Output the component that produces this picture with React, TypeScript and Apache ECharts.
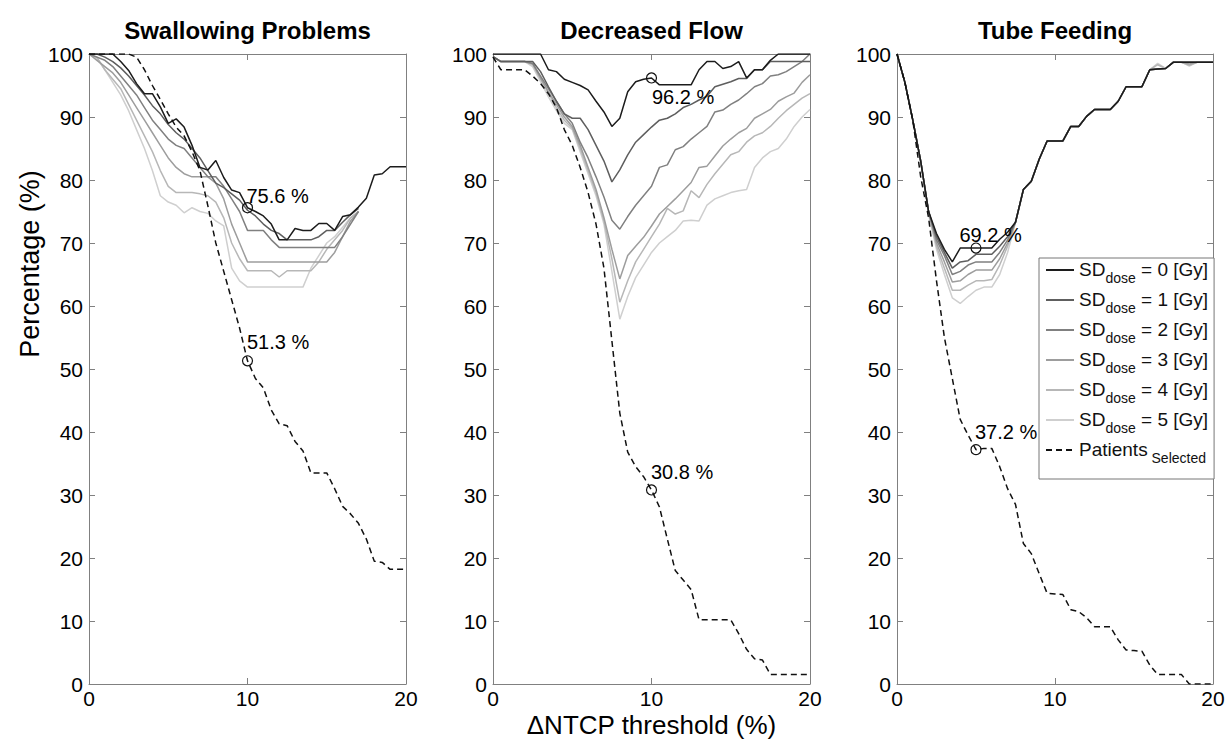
import React, { useEffect, useRef } from "react";
import * as echarts from "echarts";

const FONT = '"Liberation Sans", Arial, Helvetica, sans-serif';

const xValues = [0, 0.5, 1, 1.5, 2, 2.5, 3, 3.5, 4, 4.5, 5, 5.5, 6, 6.5, 7, 7.5, 8, 8.5, 9, 9.5, 10, 10.5, 11, 11.5, 12, 12.5, 13, 13.5, 14, 14.5, 15, 15.5, 16, 16.5, 17, 17.5, 18, 18.5, 19, 19.5, 20];

const panelTitles = ["Swallowing Problems", "Decreased Flow", "Tube Feeding"];
const xAxisTitle = "\u0394NTCP threshold (%)";
const yAxisTitle = "Percentage (%)";
const sdNames = ["SD0", "SD1", "SD2", "SD3", "SD4", "SD5"];
const patientsName = "Patients";
const xTickLabels = [0, 10, 20];
const yTickLabels = [0, 10, 20, 30, 40, 50, 60, 70, 80, 90, 100];

// Panel 1: Swallowing Problems
const swSD0 = [100, 100, 100, 100, 98.8, 97.4, 95.3, 93.7, 93.7, 91.6, 89, 89.7, 88.4, 85.5, 82, 81.6, 83.1, 80.4, 78.4, 78, 75.6, 75, 74.3, 73, 70.5, 70.5, 72.3, 72, 72, 73.1, 73.1, 72, 74.2, 74.5, 75.7, 77.1, 80.8, 81, 82.1, 82.1, 82.1];
const swSD1 = [100, 100, 99.5, 98.8, 97.8, 96.5, 95, 93.5, 91.8, 90.5, 88.8, 87.5, 86.5, 85, 83.5, 81.5, 79.5, 78.8, 77.8, 76.8, 75.2, 74.3, 73, 72, 71.5, 70.5, 70.5, 70.5, 70.5, 71, 72, 72, 73.3, 74.5, 75.5];
const swSD2 = [100, 99.5, 99, 98, 96.5, 95, 93.5, 91.5, 89.5, 88, 86.5, 85.5, 85, 83.5, 82, 80.5, 80.5, 79, 77, 75, 72, 72, 72, 70.5, 69.3, 69.3, 69.3, 69.3, 69.3, 69.3, 69.3, 69.3, 71, 73, 75];
const swSD3 = [100, 99, 98, 97, 95.5, 93.5, 91.5, 89.5, 87.5, 85.5, 83.5, 82, 81, 80.5, 80.5, 80.5, 79.5, 77, 73, 70, 67, 67, 67, 67, 67, 67, 67, 67, 67, 67, 67, 68.5, 71, 73.5, 75];
const swSD4 = [100, 99.5, 97.5, 96, 94.5, 92, 89.5, 87, 84.5, 81.5, 79, 78, 78, 78, 77.8, 77.5, 76.5, 74, 70, 67.5, 65.6, 65.6, 65.6, 65.6, 64.6, 65.6, 65.6, 65.6, 65.6, 67, 69, 70.5, 72, 74, 75];
const swSD5 = [100, 99.3, 97.5, 95.5, 93.5, 91, 88, 85, 81.5, 77.5, 76.5, 76, 74.8, 75.6, 75, 74.7, 73.5, 72.7, 66, 64, 63, 63, 63, 63, 63, 63, 63, 63, 66, 68, 70, 71, 72.5, 74, 75];
const swPatients = [100, 100, 100, 100, 100, 100, 99.5, 97.5, 95, 92.8, 90.5, 88.4, 87, 84.5, 81.5, 75.9, 70, 65.5, 61, 56.5, 51.3, 48.5, 47, 43.5, 41.3, 41, 38.5, 37, 33.5, 33.5, 33.5, 31, 28.2, 27, 25.5, 23, 19.5, 19.3, 18.2, 18.2, 18.2];
const swMarked = [[10, 75.6], [10, 51.3]];

// Panel 2: Decreased Flow
const dfSD0 = [100, 100, 100, 100, 100, 100, 100, 97.5, 97.2, 96, 95.5, 95, 94.3, 92.5, 90.8, 88.5, 89.8, 94, 95.6, 96, 96.2, 95.1, 95.1, 95.1, 95.1, 95.1, 97.5, 98.8, 98.8, 97.7, 98, 98.8, 96.2, 97.5, 97.5, 99, 100, 100, 100, 100, 100];
const dfSD1 = [99.6, 98.8, 98.8, 98.8, 98.8, 98.8, 97.2, 94.8, 92.5, 90.5, 89.8, 89.8, 88, 85.5, 83, 79.7, 81.6, 84, 86, 87.2, 88.4, 89.5, 89.8, 90.5, 91.5, 92, 92.7, 93.3, 94.8, 95.2, 95.6, 96.1, 96.1, 97.5, 97.5, 98.8, 98.8, 98.8, 98.8, 98.8, 98.8];
const dfSD2 = [99.6, 98.8, 98.8, 98.8, 98.8, 98.5, 96.5, 94.5, 92.5, 90.5, 89, 86, 83.5, 80.5, 77.3, 73.6, 72.2, 74.2, 76, 77.5, 79, 82, 82.4, 84.8, 85.3, 86.5, 87.5, 88.5, 90.8, 91.1, 92, 92.7, 93.7, 94.8, 95.3, 96.5, 96.7, 97.2, 98, 98.8, 100];
const dfSD3 = [99.6, 98.8, 98.8, 98.8, 98.8, 98.5, 96.2, 94, 92, 90, 88.5, 85.5, 82, 78.5, 74, 69, 64.3, 68, 69.5, 70.9, 72.7, 74.6, 75.8, 77, 78.3, 79.6, 82, 82.2, 83.8, 85.4, 86.5, 87.5, 88.2, 89.8, 90.5, 91.2, 92.5, 93.2, 93.8, 95.5, 96.7];
const dfSD4 = [99.6, 98.8, 98.8, 98.8, 98.8, 98.3, 96, 93.8, 91.5, 89.5, 88.2, 85, 81.5, 78, 73.5, 67.5, 60.6, 64, 67, 69, 71, 73, 75.5, 74.6, 75.1, 78.3, 77.2, 79.3, 81, 82.5, 84, 84.5, 86, 87, 87.5, 88.5, 89.8, 91, 92, 93, 93.7];
const dfSD5 = [99.6, 98.8, 98.8, 98.8, 98.8, 98, 95.6, 93.2, 91, 89, 88, 84.5, 81, 77.5, 73, 65.5, 57.9, 61.5, 64.5, 66.5, 68.5, 70, 71, 72, 73.5, 73.6, 73.5, 76, 77, 77.5, 78, 78.3, 78.5, 82, 83.5, 84.5, 85, 86.5, 88.5, 90, 91.2];
const dfPatients = [99.5, 97.5, 97.5, 97.5, 97.5, 96.5, 95.3, 93.7, 91.5, 88, 85.5, 82, 78, 73, 66, 54.5, 43, 36.8, 34.5, 32.9, 30.8, 28.1, 23, 18, 16.5, 15, 10.2, 10.2, 10.2, 10.2, 10.2, 8, 5.5, 4, 3.8, 1.5, 1.5, 1.5, 1.5, 1.5, 1.5];
const dfMarked = [[10, 96.2], [10, 30.8]];

// Panel 3: Tube Feeding
const tfSD0 = [100, 95.5, 89.5, 83, 75, 71.5, 69, 67, 69.2, 69.2, 69.2, 69.2, 69.2, 70.6, 71.7, 73.3, 78.5, 79.8, 83.3, 86.2, 86.2, 86.2, 88.5, 88.5, 90.1, 91.2, 91.2, 91.2, 92.5, 94.8, 94.8, 94.8, 97.5, 97.6, 97.7, 98.7, 98.7, 98.7, 98.7, 98.7, 98.7];
const tfSD1 = [100, 95.5, 89.5, 83, 75, 71, 68.5, 66, 67, 67.2, 68.2, 68.2, 68.2, 69.5, 71, 73.3, 78.5, 79.8, 83.3, 86.2, 86.2, 86.2, 88.5, 88.5, 90.1, 91.2, 91.2, 91.2, 92.5, 94.8, 94.8, 94.8, 97.5, 97.6, 97.7, 98.7, 98.7, 98.7, 98.7, 98.7, 98.7];
const tfSD2 = [100, 95.5, 89.5, 83, 75, 70.5, 68, 65, 65.5, 66.5, 67, 67, 67, 68.5, 70.5, 73.3, 78.5, 79.8, 83.3, 86.2, 86.2, 86.2, 88.5, 88.5, 90.1, 91.2, 91.2, 91.2, 92.5, 94.8, 94.8, 94.8, 97.5, 97.6, 97.7, 98.7, 98.7, 98.7, 98.7, 98.7, 98.7];
const tfSD3 = [100, 95.5, 89.5, 83, 75, 70, 67, 63.8, 64, 65, 65.7, 65.7, 65.7, 67.5, 70, 73.3, 78.5, 79.8, 83.3, 86.2, 86.2, 86.2, 88.5, 88.5, 90.1, 91.2, 91.2, 91.2, 92.5, 94.8, 94.8, 94.8, 97.5, 97.6, 97.7, 98.7, 98.7, 98.4, 98.7, 98.7, 98.7];
const tfSD4 = [100, 95.5, 89.5, 83, 74.8, 69.5, 66, 62.5, 62.5, 63.3, 64, 64, 64.2, 66.5, 69.5, 73.3, 78.5, 79.8, 83.3, 86.2, 86.2, 86.2, 88.5, 88.5, 90.1, 91.2, 91.2, 91.2, 92.5, 94.8, 94.8, 94.8, 97.5, 98.3, 97.7, 98.7, 98.7, 98.2, 98.7, 98.7, 98.7];
const tfSD5 = [100, 95.5, 89.5, 83, 74.5, 69, 65, 61.3, 60.4, 61.5, 62.5, 63, 63, 65, 68.5, 73.3, 78.5, 79.8, 83.3, 86.2, 86.2, 86.2, 88.5, 88.5, 90.1, 91.2, 91.2, 91.2, 92.5, 94.8, 94.8, 94.8, 97.5, 98.5, 97.7, 98.7, 98.7, 98.1, 98.7, 98.7, 98.7];
const tfPatients = [100, 95.5, 89.5, 80.5, 74, 64, 55, 48.5, 42, 39.5, 37.2, 37.4, 37.4, 34.5, 31, 28.5, 22.3, 20.7, 17.5, 14.4, 14.3, 14.2, 11.8, 11.5, 10.5, 9.1, 9.1, 9.1, 7, 5.4, 5.3, 5.2, 3, 1.5, 1.5, 1.5, 1.5, 0, 0, 0, 0];
const tfMarked = [[5, 69.2], [5, 37.2]];

const panelSD = [
  [swSD0, swSD1, swSD2, swSD3, swSD4, swSD5],
  [dfSD0, dfSD1, dfSD2, dfSD3, dfSD4, dfSD5],
  [tfSD0, tfSD1, tfSD2, tfSD3, tfSD4, tfSD5],
];
const panelPatients = [swPatients, dfPatients, tfPatients];
const panelMarked = [swMarked, dfMarked, tfMarked];

// styling / layout (not data)
const sdColors = ["#1c1c1c", "#5e5e5e", "#808080", "#9d9d9d", "#b7b7b7", "#cfcfcf"];
const gridLefts = [89, 493, 897];
const gridWidths = [317, 317, 316];
const gridTop = 54;
const gridHeight = 630;
const axisColor = "#808080";
// label offsets relative to marker box top-left (marker 10x10)
const markLabelPos = [
  [[4.5, -6], [5, -13]],
  [[6, 25], [5, -12.5]],
  [[-11, -7], [4.5, -12.5]],
];

function toPairs(vals: number[]) {
  const out: number[][] = [];
  for (let i = 0; i < vals.length; i++) {
    if (vals[i] !== null && vals[i] !== undefined) out.push([xValues[i], vals[i]]);
  }
  return out;
}

function buildOption() {
  const grid: any[] = [];
  const xAxis: any[] = [];
  const yAxis: any[] = [];
  const series: any[] = [];

  for (let p = 0; p < 3; p++) {
    grid.push({
      left: gridLefts[p],
      top: gridTop,
      width: gridWidths[p],
      height: gridHeight,
      containLabel: false,
      outerBoundsMode: "none",
    });
    const common = {
      gridIndex: p,
      type: "value",
      splitLine: { show: false },
      axisLine: { show: true, onZero: false, lineStyle: { color: axisColor, width: 1 } },
      axisTick: { show: true, inside: true, length: 6, lineStyle: { color: axisColor, width: 1 } },
    };
    xAxis.push({
      ...common,
      position: "bottom",
      min: xTickLabels[0],
      max: xTickLabels[xTickLabels.length - 1],
      interval: 10,
      axisLabel: { show: true, color: "#000", fontSize: 21, lineHeight: 21, fontFamily: FONT, margin: 4 },
    });
    xAxis.push({
      ...common,
      position: "top",
      min: 0,
      max: 20,
      interval: 10,
      axisLabel: { show: false },
    });
    yAxis.push({
      ...common,
      position: "left",
      min: yTickLabels[0],
      max: yTickLabels[yTickLabels.length - 1],
      interval: 10,
      axisLabel: { show: true, color: "#000", fontSize: 21, fontFamily: FONT, margin: 6 },
    });
    yAxis.push({
      ...common,
      position: "right",
      min: 0,
      max: 100,
      interval: 10,
      axisLabel: { show: false },
    });

    for (let k = 5; k >= 0; k--) {
      series.push({
        type: "line",
        name: sdNames[k],
        xAxisIndex: p * 2,
        yAxisIndex: p * 2,
        data: toPairs(panelSD[p][k]),
        symbol: "none",
        showSymbol: false,
        lineStyle: { color: sdColors[k], width: 1.5 },
        itemStyle: { color: sdColors[k] },
        z: 3,
      });
    }
    series.push({
      type: "line",
      name: patientsName,
      xAxisIndex: p * 2,
      yAxisIndex: p * 2,
      data: toPairs(panelPatients[p]),
      symbol: "none",
      showSymbol: false,
      lineStyle: { color: "#111", width: 1.5, type: [6, 4] },
      itemStyle: { color: "#111" },
      z: 4,
    });
    series.push({
      type: "scatter",
      name: "marked-" + p,
      xAxisIndex: p * 2,
      yAxisIndex: p * 2,
      symbol: "circle",
      symbolSize: 10,
      itemStyle: { color: "rgba(255,255,255,0)", borderColor: "#111", borderWidth: 1.2, opacity: 1 },
      label: { color: "#000" },
      z: 5,
      data: panelMarked[p].map((v, i) => ({
        value: v,
        label: {
          show: true,
          position: markLabelPos[p][i],
          align: "left",
          verticalAlign: "middle",
          formatter: (prm: any) => prm.value[1].toFixed(1) + " %",
          fontSize: 20,
          color: "#000",
          opacity: 1,
          textBorderWidth: 0,
          fontFamily: FONT,
        },
      })),
    });
  }

  const graphic: any[] = panelTitles.map((t, p) => ({
    type: "text",
    x: gridLefts[p] + gridWidths[p] / 2,
    y: 30,
    style: {
      text: t,
      align: "center",
      verticalAlign: "middle",
      fontSize: 24,
      fontWeight: "bold",
      fontFamily: FONT,
      fill: "#000",
    },
  }));
  graphic.push({
    type: "text",
    x: 30,
    y: 264,
    rotation: Math.PI / 2,
    style: {
      text: yAxisTitle,
      align: "center",
      verticalAlign: "middle",
      fontSize: 27,
      fontFamily: FONT,
      fill: "#000",
    },
  });
  graphic.push({
    type: "text",
    x: gridLefts[1] + gridWidths[1] / 2,
    y: 725,
    style: {
      text: xAxisTitle,
      align: "center",
      verticalAlign: "middle",
      fontSize: 26,
      lineHeight: 26,
      fontFamily: FONT,
      fill: "#000",
    },
  });

  return {
    animation: false,
    backgroundColor: "#fff",
    grid,
    xAxis,
    yAxis,
    series,
    graphic,
    legend: {
      show: true,
      orient: "vertical",
      left: 1039,
      top: 258,
      itemWidth: 28,
      itemHeight: 14,
      itemGap: 5,
      padding: [2, 6, 14, 6],
      borderColor: "#777",
      borderWidth: 1,
      backgroundColor: "#fff",
      selectedMode: false,
      itemStyle: { opacity: 0 },
      data: [...sdNames, patientsName],
      formatter: (name: string) =>
        name === patientsName ? "{m|Patients}{s| Selected}" : "{m|SD}{s|dose}{m| = " + name.slice(2) + " [Gy]}",
      textStyle: {
        color: "#111",
        fontFamily: FONT,
        rich: {
          m: { fontSize: 19, lineHeight: 20, verticalAlign: "top", fontFamily: FONT, color: "#111" },
          s: { fontSize: 14, lineHeight: 14, verticalAlign: "top", padding: [11, 0, 0, 0], fontFamily: FONT, color: "#111" },
        },
      },
    },
  };
}

export default function App() {
  const ref = useRef<HTMLDivElement>(null);
  useEffect(() => {
    if (!ref.current) return;
    const chart = echarts.init(ref.current, undefined, { renderer: "svg" });
    chart.setOption(buildOption() as any);
    return () => chart.dispose();
  }, []);
  return (
    <div
      ref={ref}
      style={{ position: "fixed", left: 0, top: 0, width: 1228, height: 740, background: "#fff" }}
    />
  );
}
